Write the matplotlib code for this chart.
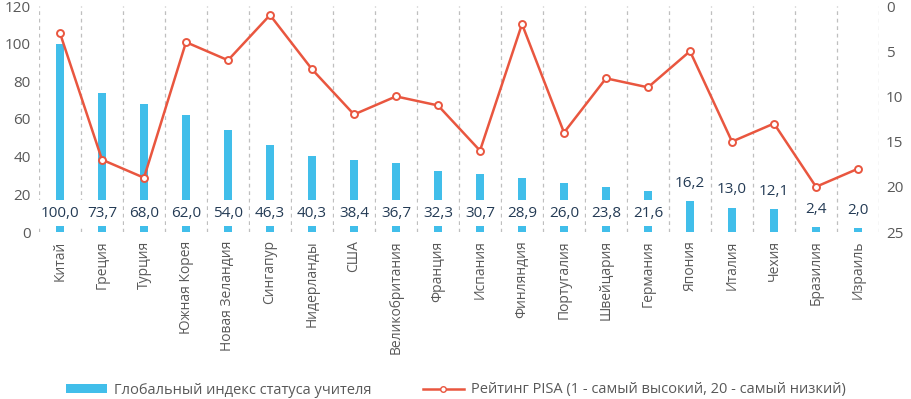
import matplotlib
matplotlib.use("Agg")
import matplotlib.pyplot as plt
from matplotlib.lines import Line2D
from matplotlib.patches import Patch
import numpy as np

plt.rcParams['font.family'] = ['Open Sans', 'DejaVu Sans']

countries = ["Китай", "Греция", "Турция", "Южная Корея", "Новая Зеландия", "Сингапур",
             "Нидерланды", "США", "Великобритания", "Франция", "Испания", "Финляндия",
             "Португалия", "Швейцария", "Германия", "Япония", "Италия", "Чехия",
             "Бразилия", "Израиль"]
status_index = [100.0, 73.7, 68.0, 62.0, 54.0, 46.3, 40.3, 38.4, 36.7, 32.3, 30.7, 28.9,
                26.0, 23.8, 21.6, 16.2, 13.0, 12.1, 2.4, 2.0]
pisa_rank = [3, 17, 19, 4, 6, 1, 7, 12, 10, 11, 16, 2, 14, 8, 9, 5, 15, 13, 20, 18]
left_ticks = [0, 20, 40, 60, 80, 100, 120]
right_ticks = [0, 5, 10, 15, 20, 25]

bar_label = "Глобальный индекс статуса учителя"
line_label = "Рейтинг PISA (1 - самый высокий, 20 - самый низкий)"

BLUE = "#41BEEA"
RED = "#E9563F"
GREY = "#595959"
LABEL = "#243B55"

W, H = 912, 399
fig = plt.figure(figsize=(W / 100, H / 100), dpi=100)
ax = fig.add_axes([39 / W, 1 - 232 / H, 840 / W, 226 / H])
x = np.arange(len(countries))

ax.bar(x, status_index, width=0.17, color=BLUE, zorder=2)
ax.set_xlim(-0.5, len(countries) - 0.5)
ax.set_ylim(0, 120)
ax.set_yticks(left_ticks)
ax.set_xticks(x)
ax.set_xticklabels(countries, rotation=90, fontsize=10, color=GREY)
ax.tick_params(axis='both', length=0, labelsize=10, colors=GREY)
ax.tick_params(axis='y', pad=6, labelsize=11)
ax.tick_params(axis='x', pad=6)
for s in ax.spines.values():
    s.set_visible(False)
for b in np.arange(-0.5, len(countries), 1.0):
    ax.axvline(b, color="#BFBFBF", lw=0.9, ls=(0, (3, 3)), zorder=1)

for xi, v in zip(x, status_index):
    txt = f"{v:.1f}".replace(".", ",")
    if v >= 20:
        ax.text(xi, 10, txt, ha='center', va='center', fontsize=11, color=LABEL, zorder=4,
                bbox=dict(boxstyle='square,pad=0.35', fc='white', ec='none'))
    else:
        ax.text(xi, v + 9.5, txt, ha='center', va='center', fontsize=11, color=LABEL, zorder=4)

ax2 = ax.twinx()
ax2.plot(x, pisa_rank, color=RED, lw=1.8, marker='o', ms=5, mfc='white', mec=RED, mew=1.4, zorder=5)
ax2.set_ylim(25, 0)
ax2.set_yticks(right_ticks)
ax2.tick_params(axis='y', length=0, labelsize=11, colors=GREY, pad=5)
for s in ax2.spines.values():
    s.set_visible(False)
ax2.set_zorder(ax.get_zorder() + 1)
ax2.patch.set_visible(False)

handles = [Patch(facecolor=BLUE, edgecolor='none'),
           Line2D([0], [0], color=RED, lw=1.8, marker='o', ms=4, mfc='white', mec=RED)]
fig.legend(handles, [bar_label, line_label], loc='center', bbox_to_anchor=(0.5, 1 - 390 / H),
           ncol=2, frameon=False, fontsize=10.5, labelcolor=GREY, handlelength=2.8,
           handleheight=0.6, columnspacing=3.5, handletextpad=0.5)

fig.savefig("out.png", dpi=100)
